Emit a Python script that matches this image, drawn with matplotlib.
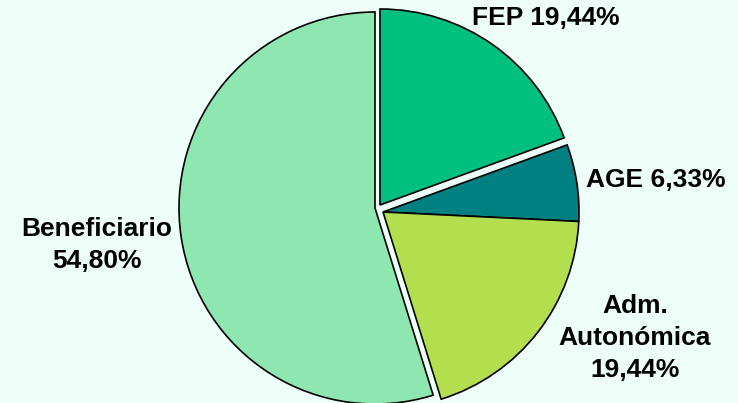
import matplotlib
matplotlib.use('Agg')
import matplotlib.pyplot as plt

# data (clockwise from the top)
labels = ['FEP', 'AGE', 'Adm.\nAutonómica', 'Beneficiario']
values = [19.44, 6.33, 19.44, 54.80]
pct_text = ['19,44%', '6,33%', '19,44%', '54,80%']
colors = ['#00C080', '#008080', '#B3DF4F', '#8EE6B0']

W, H = 738, 403
R = 196.0
# centre of each (pulled-out) slice, in pixels from top-left
centres = [(380, 205), (383, 212), (383, 212), (375, 208)]

fig = plt.figure(figsize=(W / 100, H / 100), dpi=100)
fig.patch.set_facecolor('#EEFFF9')
ax = fig.add_axes([0, 0, 1, 1])
ax.set_facecolor('#EEFFF9')

wedges, _ = ax.pie(values, colors=colors, startangle=90, counterclock=False,
                   radius=R, center=(383, H - 212),
                   wedgeprops=dict(edgecolor='black', linewidth=1.2))
for w, (x, y) in zip(wedges, centres):
    w.set_center((x, H - y))

ax.set_aspect('auto')
ax.set_xlim(0, W)
ax.set_ylim(0, H)
ax.axis('off')

font = dict(family=['Liberation Sans', 'DejaVu Sans'], fontsize=19,
            fontweight='bold', color='black', linespacing=1.4)

ax.text(546, H - 18, f'{labels[0]} {pct_text[0]}', ha='center', va='center', **font)
ax.text(656, H - 180, f'{labels[1]} {pct_text[1]}', ha='center', va='center', **font)
ax.text(635, H - 338, f'{labels[2]}\n{pct_text[2]}', ha='center', va='center', **font)
ax.text(97, H - 245, f'{labels[3]}\n{pct_text[3]}', ha='center', va='center', **font)

fig.savefig('out.png', dpi=100, facecolor=fig.get_facecolor())
